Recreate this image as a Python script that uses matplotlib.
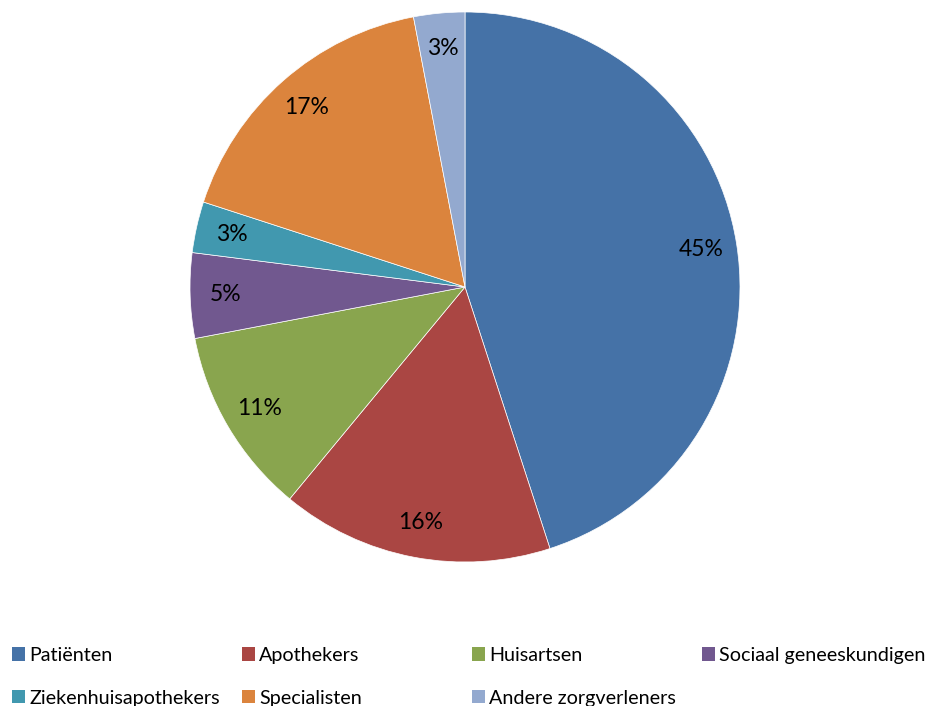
import matplotlib.pyplot as plt
from matplotlib.patches import Patch

labels = ["Patiënten", "Apothekers", "Huisartsen", "Sociaal geneeskundigen",
          "Ziekenhuisapothekers", "Specialisten", "Andere zorgverleners"]
shares = [45, 16, 11, 5, 3, 17, 3]
colors = ["#4572A7", "#AA4643", "#89A54E", "#71588F",
          "#4198AF", "#DB843D", "#93A9CF"]

plt.rcParams['font.family'] = ['Lato', 'DejaVu Sans']

W, H = 926, 706
fig = plt.figure(figsize=(W / 100, H / 100), dpi=100)

cx, cy, r = 465, 287, 275
ax = fig.add_axes([(cx - r) / W, (H - cy - r) / H, 2 * r / W, 2 * r / H])

wedges, texts, autotexts = ax.pie(
    shares, colors=colors, startangle=90, counterclock=False,
    autopct=lambda p: f"{p:.0f}%", pctdistance=0.87,
    wedgeprops=dict(edgecolor="white", linewidth=0.5),
    textprops=dict(fontsize=16.5, color="black"))
ax.set_xlim(-1, 1)
ax.set_ylim(-1, 1)
ax.set_aspect("equal")
ax.axis("off")

# legend laid out row-wise: one small legend per column
col_x = [12, 242, 472, 702]
for i, x in enumerate(col_x):
    idx = [k for k in (i, i + 4) if k < len(labels)]
    handles = [Patch(facecolor=colors[k], edgecolor="none") for k in idx]
    fig.legend(handles, [labels[k] for k in idx],
               loc="upper left", bbox_to_anchor=(x / W, 1 - 647 / H),
               frameon=False, fontsize=14.2, handlelength=0.65,
               handleheight=0.65, handletextpad=0.22, labelspacing=1.3,
               borderpad=0, borderaxespad=0)

fig.savefig("out.png", dpi=100)
